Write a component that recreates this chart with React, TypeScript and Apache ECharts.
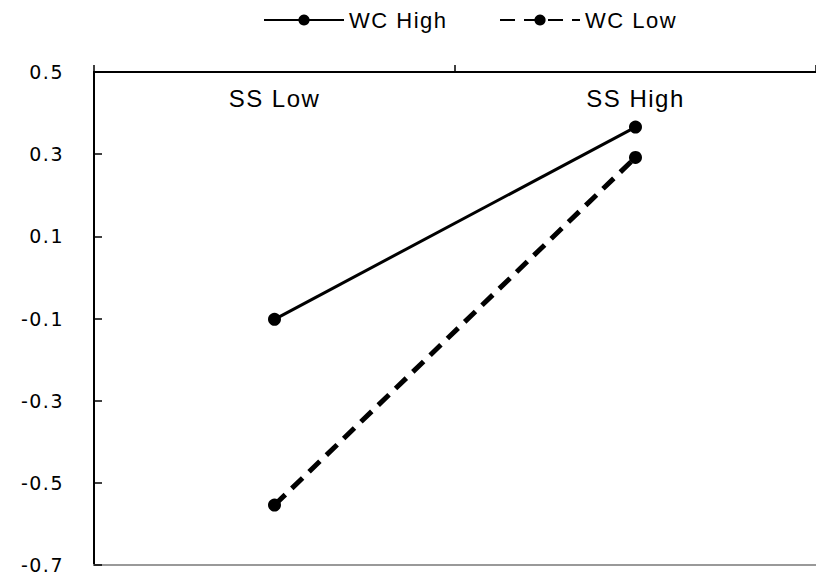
import React, { useEffect, useRef } from "react";
import * as echarts from "echarts";

const categories = ["SS Low", "SS High"];
const wcHigh = [-0.102, 0.366];
const wcLow = [-0.554, 0.292];
const seriesNames = ["WC High", "WC Low"];
const yMin = -0.7;
const yMax = 0.5;
const yInterval = 0.2;

export default function App() {
  const ref = useRef<HTMLDivElement>(null);
  useEffect(() => {
    if (!ref.current) return;
    const chart = echarts.init(ref.current, null, { renderer: "svg" });
    const font = "Liberation Sans";
    chart.setOption({
      animation: false,
      backgroundColor: "#ffffff",
      textStyle: { fontFamily: font, color: "#000" },
      legend: {
        top: 4,
        left: 258,
        itemWidth: 80,
        itemHeight: 14,
        itemGap: 62,
        textStyle: { fontSize: 22, color: "#000", fontFamily: font, padding: [0, 0, 0, 0] },
        data: seriesNames,
      },
      grid: { left: 94, right: -8, top: 72, bottom: 10, containLabel: false },
      xAxis: [
        {
          type: "category",
          data: categories,
          position: "top",
          boundaryGap: true,
          axisLine: { show: true, onZero: false, lineStyle: { color: "#000", width: 2 } },
          axisTick: { show: true, inside: false, length: 7, lineStyle: { color: "#000", width: 1.5 } },
          axisLabel: { inside: true, margin: 14, fontSize: 24, color: "#000", fontFamily: font },
          splitLine: { show: false },
        },
        {
          type: "category",
          data: categories,
          position: "bottom",
          axisLine: { show: true, onZero: false, lineStyle: { color: "#999", width: 2 } },
          axisTick: { show: false },
          axisLabel: { show: false },
          splitLine: { show: false },
        },
      ],
      yAxis: {
        type: "value",
        min: yMin,
        max: yMax,
        interval: yInterval,
        axisLine: { show: true, lineStyle: { color: "#000", width: 2 } },
        axisTick: { show: true, inside: true, length: 8, lineStyle: { color: "#000", width: 1.5 } },
        axisLabel: {
          margin: 30,
          fontSize: 19,
          lineHeight: 14,
          color: "#000",
          fontFamily: "DejaVu Sans",
          formatter: (v: number) => v.toFixed(1),
        },
        splitLine: { show: false },
      },
      series: [
        {
          name: seriesNames[0],
          type: "line",
          data: wcHigh,
          symbol: "circle",
          symbolSize: 13,
          itemStyle: { color: "#000" },
          lineStyle: { color: "#000", width: 3 },
        },
        {
          name: seriesNames[1],
          type: "line",
          data: wcLow,
          symbol: "circle",
          symbolSize: 13,
          itemStyle: { color: "#000" },
          lineStyle: { color: "#000", width: 5, type: [15, 9] },
        },
      ],
    });
    return () => chart.dispose();
  }, []);
  return (
    <div
      ref={ref}
      style={{ position: "absolute", left: 0, top: 0, width: 816, height: 575, letterSpacing: "1.5px" }}
    />
  );
}
